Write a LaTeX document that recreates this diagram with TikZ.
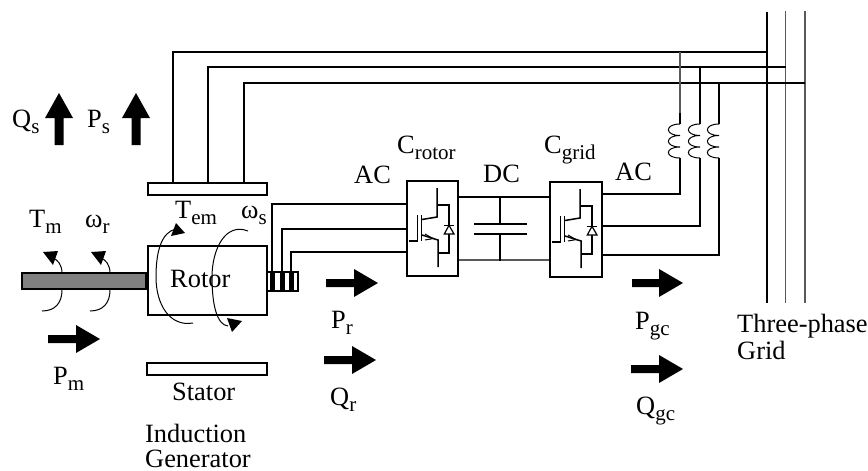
\documentclass[tikz,border=0pt]{standalone}
\usepackage{fontspec}
\setmainfont{Liberation Serif}
\newcommand{\lab}[2]{#1\raisebox{-6.5pt}{\fontsize{21}{21}\selectfont #2}}
\newcommand{\rarrow}[3]{\fill (#1,#3-4) -- (#1+#2-24,#3-4) -- (#1+#2-24,#3-14) -- (#1+#2,#3) -- (#1+#2-24,#3+14) -- (#1+#2-24,#3+4) -- (#1,#3+4) -- cycle;}
\newcommand{\uarrow}[1]{\fill (#1-4.5,145) -- (#1-4.5,118) -- (#1-14,118) -- (#1,93) -- (#1+14,118) -- (#1+4.5,118) -- (#1+4.5,145) -- cycle;}
\newcommand{\coil}[1]{\draw[thinline] (#1,124) .. controls (#1-15.5,124) and (#1-15.5,135.5) .. (#1,135.5) .. controls (#1-15.5,135.5) and (#1-15.5,147) .. (#1,147) .. controls (#1-15.5,147) and (#1-15.5,158) .. (#1,158);}
\tikzset{
  wire/.style={line width=1.8pt},
  greywire/.style={line width=1.2pt,draw=black!65},
  thinline/.style={line width=1pt},
  label/.style={anchor=base west,inner sep=0pt,font=\fontsize{26.4}{26.4}\selectfont},
  block/.style={draw,line width=1.8pt,inner sep=0pt,fill=white},
  igbt/.pic={
    \draw[line width=1.5pt] (437,188) -- (437,217) -- (422,219.5);
    \draw[line width=1.5pt] (417.3,215) -- (417.3,241) -- (409,241);
    \draw[line width=1.5pt] (421.7,215) -- (421.7,241);
    \draw[line width=1.5pt] (422,235) -- (438,240) -- (438,267);
    \draw[line width=1pt] (425,234) -- (433,238.6) -- (425,240);
    \draw[line width=1.5pt] (437,205) -- (449,205) -- (449,253) -- (438,253);
    \draw[line width=1.2pt,fill=white] (449,225.3) -- (444.3,234) -- (454,234) -- cycle;
    \draw[line width=1.5pt] (444.3,225.3) -- (454,225.3);
  }
}
\begin{document}
\begin{tikzpicture}[x=1pt,y=-1pt]
\useasboundingbox (0,0) rectangle (868,471);
% boxes
\node[block,minimum width=119pt,minimum height=12pt] (statortop) at (207.5,189) {};
\node[block,minimum width=119pt,minimum height=69pt] (rotor) at (207.5,280.5) {};
\node[block,minimum width=120pt,minimum height=12pt] (statorbot) at (207,369) {};
\node[block,fill=black!50,minimum width=124pt,minimum height=16pt,anchor=east] (shaft) at (rotor.west |- 0,281) {};
\node[block,minimum width=31pt,minimum height=19pt] (slip) at (282.5,281.5) {};
\node[block,minimum width=51pt,minimum height=95pt] (crotor) at (432.5,228.5) {};
\node[block,minimum width=52pt,minimum height=95pt] (cgrid) at (576,229.5) {};
% grid
\coordinate (g1t) at (767,12); \coordinate (g1b) at (767,303);
\coordinate (g2t) at (785.5,11); \coordinate (g2b) at (785.5,303);
\coordinate (g3t) at (805,11); \coordinate (g3b) at (805,303);
\draw[wire] (g1t) -- (g1b);
\draw[greywire] (g2t) -- (g2b);
\draw[greywire] (g3t) -- (g3b);
% stator lines
\coordinate (s1) at (173,183); \coordinate (s2) at (208,183); \coordinate (s3) at (244,183);
\draw[wire] (s1) |- (g1t |- 0,52);
\draw[wire] (s2) |- (g2t |- 0,67);
\draw[wire] (s3) |- (g3t |- 0,83);
% rotor lines
\coordinate (r1) at (272,272); \coordinate (r2) at (282,272); \coordinate (r3) at (291,272);
\draw[wire] (r1) |- (crotor.west |- 0,204);
\draw[wire] (r2) |- (crotor.west |- 0,229);
\draw[wire] (r3) |- (crotor.west |- 0,252);
% slip ring bars
\foreach \xx in {272,282,291}{\fill (\xx-2.5,272) rectangle (\xx+2.5,291);}
% dc link
\draw[wire] (crotor.east |- 0,197) -- (cgrid.west |- 0,197);
\draw[greywire] (crotor.east |- 0,260) -- (cgrid.west |- 0,260);
\coordinate (captop) at (500,197); \coordinate (capbot) at (500,261);
\draw[wire] (captop) -- (500,224);
\draw[wire] (500,234) -- (capbot);
\draw[wire] (474,224) -- (527,224);
\draw[wire] (474,234) -- (527,234);
% filter lines
\draw[greywire] (680,52) -- (680,113);
\draw[wire] (680,113) -- (680,124);
\draw[wire] (700,67) -- (700,124);
\draw[wire] (719,83) -- (719,124);
\coil{680}\coil{700}\coil{719}
\draw[wire] (680,158) -- (680,194) -- (cgrid.east |- 0,194);
\draw[wire] (700,158) -- (700,226) -- (cgrid.east |- 0,226);
\draw[wire] (719,158) -- (719,255) -- (cgrid.east |- 0,255);
% igbts
\pic at (0,0) {igbt};
\pic at (143,1) {igbt};
% rotation arrows
\draw[thinline] (42,311) .. controls (55,311) and (62,303) .. (62,290);
\draw[thinline] (62,273) .. controls (62,265) and (58,260) .. (53,258);
\fill (43,252) -- (58,251) -- (53,265) -- cycle;
\draw[thinline] (90,311) .. controls (103,311) and (110,303) .. (110,290);
\draw[thinline] (110,273) .. controls (110,265) and (106,260) .. (101,258);
\fill (91,252) -- (106,251) -- (101,265) -- cycle;
\draw[thinline] (193,323) .. controls (170,327) and (156,305) .. (156,277) .. controls (156,250) and (162,232) .. (176,229);
\fill (171,236) -- (185,233) -- (176,223) -- cycle;
\draw[thinline] (248,231) .. controls (225,222) and (212,250) .. (212,277) .. controls (212,305) and (217,325) .. (228,326);
\fill (227,318) -- (242,321) -- (232,332) -- cycle;
% block arrows
\uarrow{59}\uarrow{136}
\rarrow{48}{52}{339}
\rarrow{326}{52}{283}
\rarrow{324}{52}{360}
\rarrow{632}{51}{283}
\rarrow{631}{52}{369}
% labels
\node[label] (qs) at (12,127) {\lab{Q}{s}};
\node[label] (ps) at (87,127) {\lab{P}{s}};
\node[label] (tm) at (29,227) {\lab{T}{m}};
\node[label] (wr) at (85,227) {\lab{ω}{r}};
\node[label] (tem) at (175,218) {\lab{T}{em}};
\node[label] (ws) at (241,218) {\lab{ω}{s}};
\node[label] (rotortext) at (170,287) {Rotor};
\node[label] (ac1) at (354,183) {AC};
\node[label] (crot) at (397,153) {\lab{C}{rotor}};
\node[label] (dc) at (483,182) {DC};
\node[label] (cgr) at (544,153) {\lab{C}{grid}};
\node[label] (ac2) at (615,180) {AC};
\node[label] (pm) at (53,384) {\lab{P}{m}};
\node[label] (stat) at (172,400) {Stator};
\node[label] (ind) at (145,442) {Induction};
\node[label] (gen) at (145,467) {Generator};
\node[label] (pr) at (331,328) {\lab{P}{r}};
\node[label] (qr) at (330,405) {\lab{Q}{r}};
\node[label] (pgc) at (635,329) {\lab{P}{gc}};
\node[label] (qgc) at (636,414) {\lab{Q}{gc}};
\node[label] (three) at (737,332) {Three-phase};
\node[label] (grid) at (737,359) {Grid};
\end{tikzpicture}
\end{document}
